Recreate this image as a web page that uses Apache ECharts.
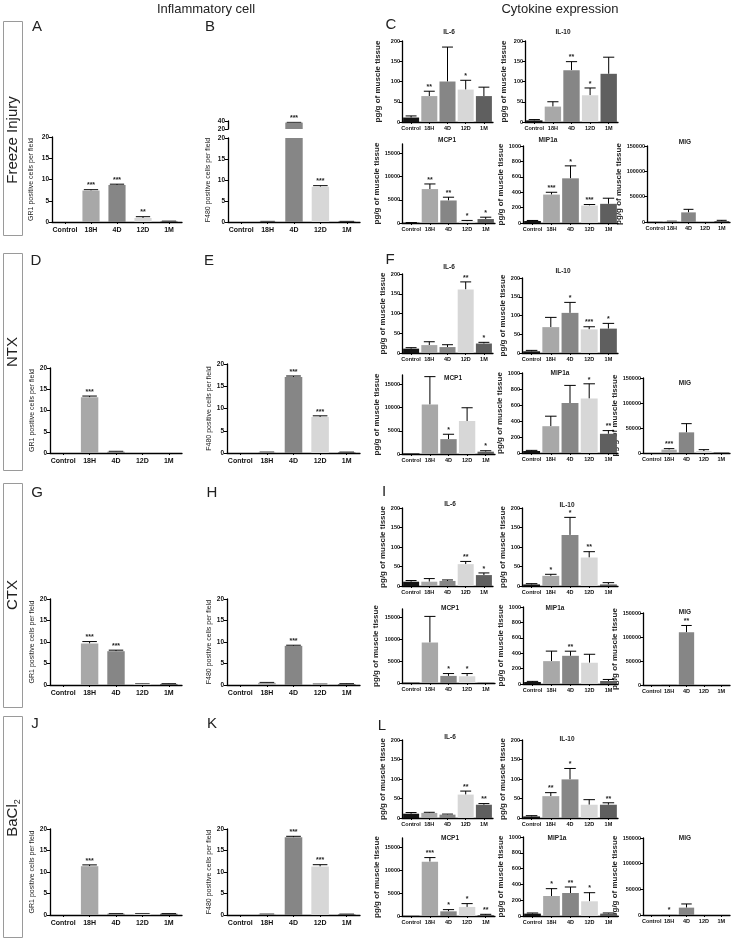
<!DOCTYPE html>
<html><head><meta charset="utf-8">
<script src="https://cdn.jsdelivr.net/npm/echarts@6/dist/echarts.min.js"></script>
<style>html,body{margin:0;padding:0;background:#fff}#c{width:734px;height:940px}</style>
</head><body><div id="c"></div>
<script>
const categories = ['Control', '18H', '4D', '12D', '1M'];

// ---- Freeze injury ----
const fiGR1 = [0, 7.4, 8.7, 0.95, 0.15];
const fiGR1Err = [0, 0.2, 0.2, 0.3, 0.05];
const fiGR1Sig = ['', '***', '***', '**', ''];
const fiF480 = [0, 0.1, 36, 8.4, 0.1];
const fiF480Err = [0, 0.05, 0.6, 0.25, 0.05];
const fiF480Sig = ['', '', '***', '***', ''];
const fiIL6 = [11, 64, 100, 80, 64];
const fiIL6Err = [4, 12, 85, 23, 22];
const fiIL6Sig = ['', '**', '', '*', ''];
const fiIL10 = [4, 38, 128, 66, 119];
const fiIL10Err = [2, 12, 21, 18, 41];
const fiIL10Sig = ['', '', '**', '*', ''];
const fiMCP1 = [70, 7300, 4850, 350, 850];
const fiMCP1Err = [30, 1100, 700, 200, 400];
const fiMCP1Sig = ['', '**', '**', '*', '*'];
const fiMIP1a = [26, 369, 580, 227, 249];
const fiMIP1aErr = [7, 30, 162, 13, 73];
const fiMIP1aSig = ['', '***', '*', '***', ''];
const fiMIG = [300, 1300, 19000, 300, 2000];
const fiMIGErr = [0, 300, 6000, 0, 1300];
const fiMIGSig = ['', '', '', '', ''];

// ---- NTX ----
const ntxGR1 = [0, 13.1, 0.3, 0, 0];
const ntxGR1Err = [0, 0.3, 0.1, 0, 0];
const ntxGR1Sig = ['', '***', '', '', ''];
const ntxF480 = [0, 0.15, 17.1, 8.1, 0.15];
const ntxF480Err = [0, 0.05, 0.2, 0.25, 0.05];
const ntxF480Sig = ['', '', '***', '***', ''];
const ntxIL6 = [11, 20, 15, 161, 24];
const ntxIL6Err = [2.5, 8.5, 6, 19, 3];
const ntxIL6Sig = ['', '', '', '**', '*'];
const ntxIL10 = [4.5, 69, 107, 63, 65];
const ntxIL10Err = [2.5, 26, 28, 7, 14];
const ntxIL10Sig = ['', '', '*', '***', '*'];
const ntxMCP1 = [140, 10650, 3200, 7100, 500];
const ntxMCP1Err = [0, 6000, 1050, 2850, 200];
const ntxMCP1Sig = ['', '', '*', '', '*'];
const ntxMIP1a = [25, 335, 625, 680, 240];
const ntxMIP1aErr = [8, 125, 220, 185, 40];
const ntxMIP1aSig = ['', '', '', '*', '**'];
const ntxMIG = [0, 6700, 41300, 4000, 1300];
const ntxMIGErr = [0, 2000, 17400, 2700, 0];
const ntxMIGSig = ['', '***', '', '', ''];

// ---- CTX ----
const ctxGR1 = [0, 9.65, 7.86, 0.2, 0.25];
const ctxGR1Err = [0, 0.45, 0.24, 0.05, 0.05];
const ctxGR1Sig = ['', '***', '***', '', ''];
const ctxF480 = [0, 0.5, 9.1, 0.15, 0.2];
const ctxF480Err = [0, 0.1, 0.15, 0.05, 0.1];
const ctxF480Sig = ['', '', '***', '', ''];
const ctxIL6 = [11, 11, 13, 56, 28];
const ctxIL6Err = [3, 8, 2.5, 7, 5.5];
const ctxIL6Sig = ['', '', '', '**', '*'];
const ctxIL10 = [4, 26, 131, 73, 4];
const ctxIL10Err = [2, 4, 45, 15, 4.6];
const ctxIL10Sig = ['', '*', '*', '**', ''];
const ctxMCP1 = [80, 9300, 1630, 1550, 80];
const ctxMCP1Err = [0, 6000, 540, 620, 0];
const ctxMCP1Sig = ['', '', '*', '*', ''];
const ctxMIP1a = [26, 297, 366, 276, 39];
const ctxMIP1aErr = [8, 130, 60, 110, 20];
const ctxMIP1aSig = ['', '', '**', '', ''];
const ctxMIG = [0, 1500, 110000, 500, 0];
const ctxMIGErr = [0, 0, 14000, 0, 0];
const ctxMIGSig = ['', '', '**', '', ''];

// ---- BaCl2 ----
const baGR1 = [0, 11.35, 0.3, 0.3, 0.3];
const baGR1Err = [0, 0.3, 0.05, 0.05, 0.05];
const baGR1Sig = ['', '***', '', '', ''];
const baF480 = [0, 0.15, 18.07, 11.27, 0.15];
const baF480Err = [0, 0.05, 0.23, 0.43, 0.05];
const baF480Sig = ['', '', '***', '***', ''];
const baIL6 = [11, 13, 8.6, 60, 34];
const baIL6Err = [3, 1.6, 1.4, 9, 3];
const baIL6Sig = ['', '', '', '**', '**'];
const baIL10 = [4, 56, 99, 34, 34];
const baIL10Err = [2, 9, 28, 13, 5];
const baIL10Sig = ['', '**', '*', '', '**'];
const baMCP1 = [50, 11850, 1020, 1975, 220];
const baMCP1Err = [0, 880, 370, 725, 145];
const baMCP1Sig = ['', '***', '*', '*', '**'];
const baMIP1a = [30, 253, 291, 186, 30];
const baMIP1aErr = [8, 93, 76, 109, 8];
const baMIP1aSig = ['', '*', '**', '*', ''];
const baMIG = [0, 1300, 14350, 0, 0];
const baMIGErr = [0, 0, 7150, 0, 0];
const baMIGSig = ['', '*', '', '', ''];

// tick label sets
const cellTicks = [0, 5, 10, 15, 20];
const il6Ticks = [0, 50, 100, 150, 200];
const mcp1Ticks = [0, 5000, 10000, 15000];
const mip1aTicks = [0, 200, 400, 600, 800, 1000];
const migTicks = [0, 50000, 100000, 150000];

// ---------------- drawing ----------------
const COLORS = ['#141414', '#a8a8a8', '#868686', '#d7d7d7', '#5f5f5f'];
const FF = "'Liberation Sans', Arial, sans-serif";
const grid = [], xAxis = [], yAxis = [], series = [], graphic = [];

function makeErr(sigs, ax) {
  return function (params, api) {
    const i = api.value(0), v = api.value(1), t = api.value(2);
    const sig = sigs[params.dataIndex];
    const kids = [];
    if (v == null || isNaN(v)) return { type: 'group', children: [] };
    if (v > ax.max + 1e-9 || (ax.min && v < ax.min)) return { type: 'group', children: [] };
    const base = api.coord([i, v]);
    const top = api.coord([i, t]);
    const bw = api.size([1, 0])[0];
    const cw = bw * ax.cap;
    if (t > v) {
      kids.push({ type: 'line', shape: { x1: base[0], y1: base[1], x2: top[0], y2: top[1] }, style: { stroke: '#000', lineWidth: 1 } });
      kids.push({ type: 'line', shape: { x1: top[0] - cw / 2, y1: top[1], x2: top[0] + cw / 2, y2: top[1] }, style: { stroke: '#000', lineWidth: 1 } });
    }
    if (sig) {
      kids.push({ type: 'text', x: top[0], y: top[1] - 4.2, style: { text: sig, align: 'center', verticalAlign: 'middle', fontSize: 7, fontWeight: 'bold', fontFamily: FF, fill: '#222' } });
    }
    return { type: 'group', children: kids };
  };
}

function addChart(rect, vals, errs, sigs, ax) {
  const gi = grid.length;
  grid.push({ left: rect[0], top: rect[1], width: rect[2], height: rect[3] });
  xAxis.push({
    type: 'category', gridIndex: gi, data: categories, show: !ax.hideX,
    axisLine: { lineStyle: { color: '#000', width: 1.3 } },
    axisTick: { show: true, alignWithLabel: true, length: 2, lineStyle: { color: '#000', width: 1 } },
    axisLabel: { interval: 0, fontSize: ax.xfs, fontWeight: 'bold', fontFamily: FF, color: '#111', margin: ax.xm }
  });
  yAxis.push({
    type: 'value', gridIndex: gi, min: ax.min || 0, max: ax.max,
    axisLine: { show: true, lineStyle: { color: '#000', width: 1.3 } },
    axisTick: { show: true, length: 3, lineStyle: { color: '#000', width: 1 }, customValues: ax.ticks },
    splitLine: { show: false },
    axisLabel: { fontSize: ax.yfs, fontWeight: 'bold', fontFamily: FF, color: '#111', margin: ax.ym, customValues: ax.ticks, formatter: v => String(v) },
    name: ax.name || '', nameLocation: 'middle', nameGap: ax.nameGap || 10,
    nameTextStyle: { fontSize: ax.nfs, fontWeight: ax.nfw, fontFamily: FF, color: '#222' }
  });
  series.push({
    type: 'bar', xAxisIndex: gi, yAxisIndex: gi, barCategoryGap: ax.gap, clip: true, animation: false, silent: true,
    data: vals.map((v, i) => ({ value: v, itemStyle: { color: COLORS[i] } }))
  });
  series.push({
    type: 'custom', xAxisIndex: gi, yAxisIndex: gi, clip: false, animation: false, silent: true,
    data: vals.map((v, i) => [i, v, v + (errs[i] || 0)]),
    renderItem: makeErr(sigs, ax)
  });
}

const cellAx = (name, gap) => ({ max: 20, ticks: cellTicks, name: name, nameGap: gap, nfs: 7, nfw: 'normal', xfs: 7, xm: 5, yfs: 6.5, ym: 3, gap: '34%', cap: 0.55 });
const cytAx = (max, ticks, gap) => ({ max: max, ticks: ticks, name: 'pg/g of muscle tissue', nameGap: gap, nfs: 8, nfw: 'bold', xfs: 5.5, xm: 3, yfs: 5.5, ym: 2, gap: '12%', cap: 0.6 });

const GR1 = 'GR1 positive cells per field';
const F480 = 'F480 positive cells per field';

// Row 1 Freeze injury
addChart([52, 137, 130, 85], fiGR1, fiGR1Err, fiGR1Sig, cellAx(GR1, 17));
// broken axis for B: lower 0-20 and upper 20-40
addChart([228, 138, 132, 84], fiF480, fiF480.map((v, i) => v > 20 ? 0 : fiF480Err[i]), fiF480Sig.map((s, i) => fiF480[i] > 20 ? '' : s), cellAx(F480, 16));
addChart([228, 121, 132, 8], fiF480.map(v => v > 20 ? v : null), fiF480Err, fiF480Sig.map((s, i) => fiF480[i] > 20 ? s : ''),
  Object.assign(cellAx('', 16), { min: 20, max: 40, ticks: [20, 40], hideX: true, name: '' }));
addChart([402, 41, 91, 81], fiIL6, fiIL6Err, fiIL6Sig, cytAx(200, il6Ticks, 20));
addChart([525, 41, 93, 81], fiIL10, fiIL10Err, fiIL10Sig, cytAx(200, il6Ticks, 17));
addChart([402, 144, 93, 79], fiMCP1, fiMCP1Err, fiMCP1Sig, cytAx(17000, mcp1Ticks, 20));
addChart([523, 146, 95, 77], fiMIP1a, fiMIP1aErr, fiMIP1aSig, cytAx(1000, mip1aTicks, 15));
addChart([647, 146, 83, 76], fiMIG, fiMIGErr, fiMIGSig, cytAx(150000, migTicks, 20));

// Row 2 NTX
addChart([50, 368, 132, 85], ntxGR1, ntxGR1Err, ntxGR1Sig, cellAx(GR1, 13));
addChart([227, 364, 133, 89], ntxF480, ntxF480Err, ntxF480Sig, cellAx(F480, 14));
addChart([402, 274, 91, 79], ntxIL6, ntxIL6Err, ntxIL6Sig, cytAx(200, il6Ticks, 12));
addChart([522, 278, 96, 75], ntxIL10, ntxIL10Err, ntxIL10Sig, cytAx(200, il6Ticks, 12));
addChart([402, 375, 93, 79], ntxMCP1, ntxMCP1Err, ntxMCP1Sig, cytAx(17000, mcp1Ticks, 20));
addChart([522, 373, 96, 80], ntxMIP1a, ntxMIP1aErr, ntxMIP1aSig, cytAx(1000, mip1aTicks, 15));
addChart([643, 378, 87, 75], ntxMIG, ntxMIGErr, ntxMIGSig, cytAx(150000, migTicks, 20));

// Row 3 CTX
addChart([50, 599, 132, 86], ctxGR1, ctxGR1Err, ctxGR1Sig, cellAx(GR1, 13));
addChart([227, 599, 133, 86], ctxF480, ctxF480Err, ctxF480Sig, cellAx(F480, 14));
addChart([402, 508, 91, 78], ctxIL6, ctxIL6Err, ctxIL6Sig, cytAx(200, il6Ticks, 12));
addChart([522, 508, 96, 78], ctxIL10, ctxIL10Err, ctxIL10Sig, cytAx(200, il6Ticks, 12));
addChart([402, 609, 93, 74], ctxMCP1, ctxMCP1Err, ctxMCP1Sig, cytAx(17000, mcp1Ticks, 22));
addChart([523, 607, 95, 77], ctxMIP1a, ctxMIP1aErr, ctxMIP1aSig, cytAx(1000, mip1aTicks, 15));
addChart([643, 613, 87, 72], ctxMIG, ctxMIGErr, ctxMIGSig, cytAx(150000, migTicks, 20));

// Row 4 BaCl2
addChart([50, 829, 132, 86], baGR1, baGR1Err, baGR1Sig, cellAx(GR1, 13));
addChart([227, 829, 133, 86], baF480, baF480Err, baF480Sig, cellAx(F480, 14));
addChart([402, 740, 91, 78], baIL6, baIL6Err, baIL6Sig, cytAx(200, il6Ticks, 12));
addChart([522, 740, 96, 78], baIL10, baIL10Err, baIL10Sig, cytAx(200, il6Ticks, 12));
addChart([402, 838, 93, 78], baMCP1, baMCP1Err, baMCP1Sig, cytAx(17000, mcp1Ticks, 21));
addChart([523, 837, 95, 79], baMIP1a, baMIP1aErr, baMIP1aSig, cytAx(1000, mip1aTicks, 15));
addChart([643, 838, 87, 77], baMIG, baMIGErr, baMIGSig, cytAx(150000, migTicks, 20));

// ---------- decorative texts ----------
function txt(x, y, s, size, weight, extra) {
  graphic.push(Object.assign({ type: 'text', x: x, y: y, silent: true,
    style: { text: s, fontSize: size, fontWeight: weight || 'normal', fontFamily: FF, fill: '#222', align: 'center', verticalAlign: 'middle' } }, extra || {}));
}
txt(206, 9, 'Inflammatory cell', 13);
txt(560, 9, 'Cytokine expression', 13);

const boxes = [[21, 235], [253, 470], [483, 707], [716, 937]];
boxes.forEach(b => graphic.push({ type: 'rect', silent: true, shape: { x: 3.5, y: b[0] + 0.5, width: 19, height: b[1] - b[0] }, style: { fill: 'none', stroke: '#9a9a9a', lineWidth: 1 } }));
txt(13, 140, 'Freeze Injury', 15, 'normal', { rotation: Math.PI / 2 });
txt(13, 352, 'NTX', 15, 'normal', { rotation: Math.PI / 2 });
txt(13, 595, 'CTX', 15, 'normal', { rotation: Math.PI / 2 });
graphic.push({ type: 'text', x: 13, y: 818, rotation: Math.PI / 2, silent: true,
  style: { text: '{a|BaCl}{b|2}', align: 'center', verticalAlign: 'middle', fill: '#222',
    rich: { a: { fontSize: 15, fontFamily: FF, fill: '#222' }, b: { fontSize: 9, fontFamily: FF, fill: '#222', padding: [9, 0, 0, 0] } } } });

// panel letters
[['A', 37, 27], ['B', 210, 27], ['C', 391, 25],
 ['D', 36, 261], ['E', 209, 261], ['F', 390, 260],
 ['G', 37, 493], ['H', 212, 493], ['I', 384, 492],
 ['J', 35, 724], ['K', 212, 724], ['L', 382, 726]].forEach(p => txt(p[1], p[2], p[0], 15));

// cytokine sub-titles
const titles = [
  ['IL-6', 449, 32], ['IL-10', 563, 32], ['MCP1', 447, 140], ['MIP1a', 548, 140], ['MIG', 685, 142],
  ['IL-6', 449, 267], ['IL-10', 563, 271], ['MCP1', 453, 378], ['MIP1a', 560, 373], ['MIG', 685, 383],
  ['IL-6', 450, 504], ['IL-10', 567, 505], ['MCP1', 450, 608], ['MIP1a', 555, 608], ['MIG', 685, 612],
  ['IL-6', 450, 737], ['IL-10', 567, 739], ['MCP1', 450, 838], ['MIP1a', 557, 838], ['MIG', 685, 838]
];
titles.forEach(t => txt(t[1], t[2], t[0], 6.5, 'bold'));

const chart = echarts.init(document.getElementById('c'), null, { renderer: 'canvas' });
chart.setOption({ animation: false, backgroundColor: '#fff', grid: grid, xAxis: xAxis, yAxis: yAxis, series: series, graphic: graphic });
</script>
</body></html>
